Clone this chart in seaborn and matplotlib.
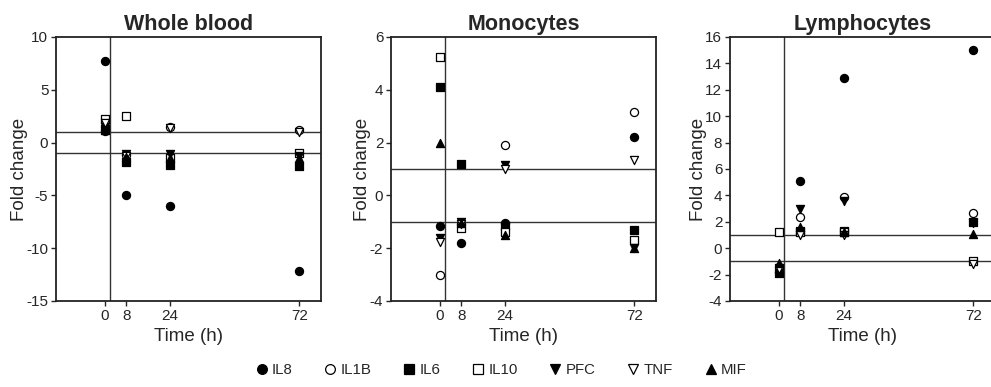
import numpy as np
import pandas as pd
import matplotlib
matplotlib.use("Agg")
import matplotlib.pyplot as plt
import seaborn as sns
from matplotlib.lines import Line2D

sns.set_style("ticks")
plt.rcParams['font.family'] = ['Liberation Sans', 'DejaVu Sans']
plt.rcParams['axes.unicode_minus'] = False

times = [0, 8, 24, 72]
cytokines = ["IL8", "IL1B", "IL6", "IL10", "PFC", "TNF", "MIF"]
panels = ["Whole blood", "Monocytes", "Lymphocytes"]

# Fold change values per cytokine at times 0, 8, 24, 72 h
whole_blood = {
    "IL8":  [7.7, -5.0, -6.0, -12.2],
    "IL1B": [1.1, -1.2, 1.5, 1.2],
    "IL6":  [1.3, -1.8, -2.1, -2.2],
    "IL10": [2.2, 2.5, -1.5, -1.0],
    "PFC":  [1.5, -1.1, -1.1, -1.3],
    "TNF":  [1.9, -1.3, 1.4, 1.0],
    "MIF":  [1.2, -1.4, -1.5, -1.5],
}
monocytes = {
    "IL8":  [-1.15, -1.8, -1.05, 2.2],
    "IL1B": [-3.0, -1.1, 1.9, 3.15],
    "IL6":  [4.1, 1.2, -1.15, -1.3],
    "IL10": [5.25, -1.25, -1.4, -1.7],
    "PFC":  [-1.6, -1.0, 1.15, -2.0],
    "TNF":  [-1.75, -1.1, 1.0, 1.35],
    "MIF":  [2.0, -1.05, -1.5, -2.0],
}
lymphocytes = {
    "IL8":  [-1.8, 5.1, 12.9, 15.0],
    "IL1B": [-1.4, 2.4, 3.85, 2.7],
    "IL6":  [-1.9, 1.3, 1.3, 1.95],
    "IL10": [1.2, 1.2, 1.2, -1.0],
    "PFC":  [-1.5, 3.0, 3.6, 1.9],
    "TNF":  [-1.6, 1.0, 1.0, -1.2],
    "MIF":  [-1.1, 1.6, 1.2, 1.1],
}
panel_data = [whole_blood, monocytes, lymphocytes]

yticks = [[-15, -10, -5, 0, 5, 10], [-4, -2, 0, 2, 4, 6], list(range(-4, 17, 2))]
ylims = [(-15, 10), (-4, 6), (-4, 16)]

markers = {"IL8": "o", "IL1B": "o", "IL6": "s", "IL10": "s", "PFC": "v", "TNF": "v", "MIF": "^"}
filled = {"IL8": True, "IL1B": False, "IL6": True, "IL10": False, "PFC": True, "TNF": False, "MIF": True}

fig = plt.figure(figsize=(9.91, 3.87), dpi=100)
lefts = [56 / 991, 391 / 991, 730 / 991]
for i, (name, d) in enumerate(zip(panels, panel_data)):
    ax = fig.add_axes([lefts[i], 86 / 387, 265 / 991, 264 / 387])
    rows = []
    for c in cytokines:
        for t, v in zip(times, d[c]):
            rows.append({"Time": t, "Fold": v, "Cytokine": c})
    df = pd.DataFrame(rows)
    for c in cytokines:
        sub = df[df["Cytokine"] == c]
        sns.scatterplot(data=sub, x="Time", y="Fold", ax=ax, marker=markers[c],
                        s=34, color="black" if filled[c] else "white",
                        edgecolor="black", linewidth=0.9, zorder=3, legend=False)
    ax.axhline(1, color="#333333", lw=1.0, zorder=1)
    ax.axhline(-1, color="#333333", lw=1.0, zorder=1)
    ax.axvline(2, color="#333333", lw=1.0, zorder=1)
    ax.set_xlim(-18, 80)
    ax.set_ylim(*ylims[i])
    ax.set_xticks(times)
    ax.set_yticks(yticks[i])
    ax.tick_params(labelsize=11, length=3.5, width=1, pad=2)
    for sp in ax.spines.values():
        sp.set_linewidth(1.3)
        sp.set_color("#222222")
    ax.set_xlabel("Time (h)", fontsize=13.5, labelpad=4)
    ax.set_ylabel("Fold change", fontsize=13.5, labelpad=-1)
    ax.set_title(name, fontsize=15.5, fontweight="bold", pad=5)

handles = [Line2D([0], [0], marker=markers[c], linestyle="none", markersize=7,
                  markerfacecolor="black" if filled[c] else "white",
                  markeredgecolor="black", markeredgewidth=0.9, label=c)
           for c in cytokines]
fig.legend(handles=handles, loc="center", bbox_to_anchor=(0.505, 0.043), ncol=7,
           frameon=False, fontsize=10.8, handletextpad=0.2, columnspacing=2.0,
           handlelength=1.0)

fig.savefig("out.png", dpi=100)
